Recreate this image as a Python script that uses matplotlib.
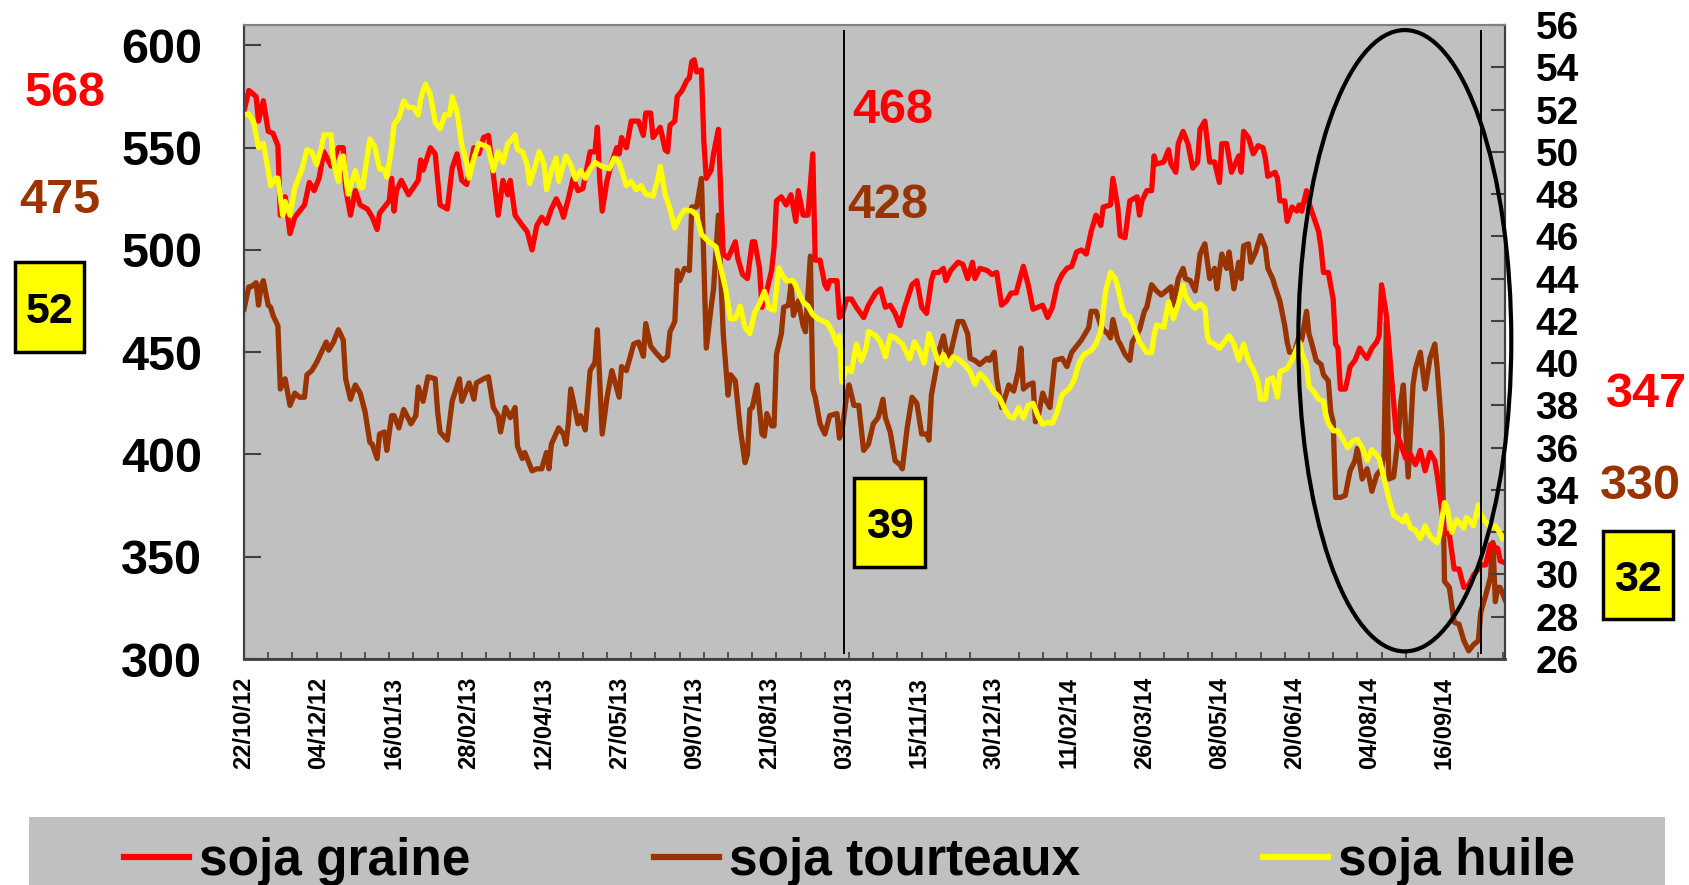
import matplotlib
matplotlib.use('Agg')
import matplotlib.pyplot as plt
from matplotlib.patches import Ellipse, Rectangle
from matplotlib.lines import Line2D

plt.rcParams['font.family'] = ['Liberation Sans', 'DejaVu Sans']
plt.rcParams['font.weight'] = 'bold'

# tick labels on the category axis (one label every 31 trading days)
date_labels = ['22/10/12', '04/12/12', '16/01/13', '28/02/13', '12/04/13', '27/05/13',
               '09/07/13', '21/08/13', '03/10/13', '15/11/13', '30/12/13', '11/02/14',
               '26/03/14', '08/05/14', '20/06/14', '04/08/14', '16/09/14']

# (day index, value)
graine = [(0, 568), (2, 578), (5, 575), (6, 563), (8, 573), (10, 558), (12, 557), (14, 551), (15, 517),
          (17, 526), (19, 508), (21, 516), (23, 519), (25, 522), (27, 533), (29, 529), (31, 535), (33, 548),
          (36, 541), (39, 550), (41, 550), (42, 530), (44, 517), (46, 529), (48, 522), (51, 520), (53, 516),
          (55, 510), (56, 518), (58, 521), (60, 524), (61, 535), (62, 519), (63, 529), (65, 534), (68, 527),
          (72, 534), (73, 544), (74, 539), (77, 550), (79, 547), (81, 522), (84, 520), (86, 540), (88, 547),
          (90, 534), (92, 532), (95, 550), (97, 547), (99, 555), (101, 556), (103, 537), (105, 517), (107, 534),
          (109, 527), (110, 534), (112, 517), (115, 512), (117, 509), (119, 500), (121, 512), (123, 516),
          (125, 513), (127, 520), (129, 525), (131, 520), (132, 516), (134, 525), (136, 535), (138, 529),
          (140, 530), (143, 548), (145, 548), (146, 560), (147, 534), (148, 519), (150, 534), (152, 543),
          (154, 550), (155, 547), (156, 555), (158, 550), (160, 563), (163, 563), (165, 556), (166, 567),
          (168, 567), (169, 555), (172, 560), (174, 549), (175, 548), (176, 561), (178, 563), (179, 575),
          (181, 578), (183, 583), (184, 584), (185, 592), (186, 593), (187, 587), (189, 588), (190, 553),
          (191, 535), (193, 539), (194, 547), (196, 559), (197, 527), (198, 498), (200, 496), (203, 504),
          (204, 496), (206, 488), (208, 486), (210, 504), (211, 504), (213, 491), (214, 472), (216, 480),
          (218, 490), (219, 501), (220, 524), (222, 526), (224, 522), (226, 527), (228, 514), (229, 529),
          (231, 517), (233, 517), (235, 547), (236, 495), (238, 495), (240, 483), (241, 481), (242, 485),
          (245, 485), (246, 467), (247, 468), (249, 476), (251, 476), (253, 472), (256, 467), (258, 473),
          (261, 479), (263, 481), (265, 472), (267, 473), (269, 469), (271, 463), (273, 472), (276, 483),
          (278, 485), (280, 472), (282, 469), (284, 485), (285, 489), (287, 489), (289, 491), (290, 485),
          (292, 490), (295, 494), (297, 493), (299, 486), (301, 494), (302, 486), (304, 491), (307, 490),
          (309, 488), (311, 489), (313, 473), (315, 475), (317, 479), (319, 479), (322, 492), (324, 483),
          (326, 471), (328, 472), (330, 473), (332, 467), (334, 472), (336, 483), (338, 488), (340, 491),
          (342, 492), (344, 499), (346, 500), (348, 498), (350, 509), (352, 517), (354, 512), (355, 521),
          (358, 522), (359, 535), (361, 521), (362, 507), (364, 506), (366, 524), (369, 526), (370, 517),
          (371, 524), (373, 529), (375, 529), (376, 546), (377, 542), (380, 543), (382, 549), (383, 542),
          (385, 538), (386, 552), (388, 558), (390, 552), (392, 540), (394, 543), (395, 559), (397, 563),
          (399, 543), (401, 543), (403, 533), (404, 552), (406, 552), (408, 538), (411, 546), (412, 538),
          (413, 558), (415, 555), (417, 547), (419, 551), (421, 550), (422, 545), (423, 536), (426, 538),
          (427, 535), (428, 524), (430, 524), (431, 514), (433, 521), (435, 519), (436, 522), (437, 519),
          (439, 529), (440, 523), (442, 516), (444, 509), (445, 501), (446, 489), (448, 489), (450, 476),
          (451, 454), (452, 452), (453, 432), (455, 432), (456, 437), (457, 443), (459, 446), (461, 452),
          (462, 450), (464, 447), (466, 452), (468, 455), (469, 458), (470, 483), (472, 468), (473, 454),
          (476, 411), (478, 405), (480, 398), (482, 400), (484, 395), (486, 402), (488, 392), (490, 401),
          (492, 397), (493, 390), (496, 362), (498, 361), (500, 344), (502, 344), (504, 335), (506, 336),
          (508, 341), (510, 344), (511, 346), (513, 346), (515, 356), (518, 354), (519, 348), (521, 347)]

tourteaux = [(0, 471), (2, 482), (3, 482), (5, 484), (6, 473), (7, 482), (8, 485), (10, 473), (11, 472),
             (12, 468), (14, 463), (15, 432), (17, 437), (19, 424), (21, 430), (23, 428), (25, 428), (26, 439),
             (28, 441), (30, 445), (32, 450), (34, 455), (35, 451), (37, 455), (39, 461), (41, 456), (42, 437),
             (44, 427), (46, 434), (48, 430), (50, 421), (52, 406), (53, 405), (55, 398), (56, 410), (58, 411),
             (59, 402), (61, 419), (62, 419), (64, 413), (66, 422), (69, 415), (71, 419), (72, 433), (74, 426),
             (76, 438), (79, 437), (80, 421), (81, 411), (84, 407), (86, 426), (89, 437), (90, 426), (93, 435),
             (95, 427), (96, 435), (99, 437), (101, 438), (103, 423), (105, 419), (106, 411), (108, 423),
             (110, 418), (112, 423), (113, 404), (115, 398), (116, 401), (119, 392), (121, 393), (123, 393),
             (125, 401), (126, 393), (127, 405), (130, 413), (132, 410), (133, 405), (134, 415), (135, 432),
             (138, 415), (139, 419), (141, 412), (143, 441), (145, 445), (146, 461), (148, 410), (150, 428),
             (152, 441), (155, 428), (156, 443), (158, 441), (161, 454), (163, 455), (165, 448), (166, 464),
             (168, 453), (170, 450), (173, 446), (175, 448), (176, 460), (178, 465), (179, 490), (180, 485),
             (182, 491), (184, 490), (185, 521), (187, 521), (189, 535), (191, 452), (193, 472), (194, 481),
             (196, 517), (198, 459), (200, 429), (201, 439), (203, 436), (205, 413), (207, 396), (208, 400),
             (209, 422), (210, 423), (212, 434), (214, 410), (215, 409), (216, 420), (218, 414), (219, 414),
             (220, 449), (222, 459), (223, 472), (225, 473), (226, 483), (227, 468), (229, 475), (231, 463),
             (232, 460), (234, 497), (235, 432), (236, 428), (238, 415), (240, 410), (242, 419), (245, 420),
             (246, 408), (247, 411), (249, 429), (250, 434), (252, 424), (254, 424), (256, 402), (258, 405),
             (260, 415), (262, 418), (264, 427), (265, 418), (267, 411), (269, 397), (271, 395), (272, 393),
             (274, 413), (276, 428), (278, 425), (280, 410), (282, 410), (283, 407), (284, 429), (286, 442),
             (287, 450), (289, 458), (291, 445), (295, 465), (297, 465), (299, 459), (300, 447), (302, 446),
             (304, 444), (307, 447), (308, 446), (310, 450), (311, 437), (313, 423), (315, 430), (316, 434),
             (318, 431), (320, 441), (321, 452), (322, 432), (324, 434), (326, 435), (327, 416), (328, 418),
             (330, 430), (331, 427), (333, 423), (335, 446), (338, 447), (340, 443), (342, 450), (344, 453),
             (346, 456), (349, 462), (350, 470), (352, 470), (354, 463), (355, 461), (357, 459), (358, 457),
             (359, 466), (361, 456), (362, 454), (364, 449), (366, 446), (367, 455), (370, 461), (372, 470),
             (373, 472), (375, 483), (377, 480), (379, 478), (381, 480), (383, 482), (384, 473), (386, 486),
             (388, 491), (389, 486), (391, 485), (393, 480), (394, 488), (395, 498), (397, 503), (399, 486),
             (401, 491), (402, 481), (404, 498), (406, 491), (407, 499), (409, 481), (411, 494), (412, 486),
             (413, 502), (415, 503), (416, 494), (418, 499), (420, 507), (422, 501), (423, 491), (425, 486),
             (426, 482), (428, 475), (430, 463), (431, 455), (432, 450), (434, 450), (436, 458), (437, 456),
             (439, 470), (440, 459), (441, 455), (443, 446), (445, 444), (446, 439), (448, 436), (449, 421),
             (450, 416), (451, 379), (453, 379), (455, 380), (457, 392), (459, 397), (460, 403), (462, 388),
             (464, 393), (465, 388), (466, 382), (468, 390), (470, 393), (471, 400), (472, 465), (473, 388),
             (475, 389), (477, 410), (478, 426), (479, 434), (481, 389), (483, 434), (484, 442), (486, 450),
             (488, 432), (490, 447), (492, 454), (493, 442), (495, 410), (496, 338), (498, 335), (500, 318),
             (502, 317), (504, 309), (506, 304), (508, 307), (510, 309), (511, 323), (513, 331), (515, 340),
             (516, 357), (517, 328), (518, 335), (519, 335), (521, 329)]

huile = [(0, 51.75), (2, 51.8), (4, 51.4), (6, 50.2), (8, 50.4), (10, 49.1), (11, 48.4), (13, 48.75),
         (14, 48.75), (16, 47.0), (17, 47.65), (19, 47.0), (21, 48.3), (24, 49.2), (26, 50.1), (28, 50.0),
         (30, 49.4), (32, 50.2), (33, 50.8), (36, 50.8), (37, 49.5), (39, 48.6), (40, 49.7), (41, 49.8),
         (43, 48.0), (46, 49.1), (48, 48.3), (49, 48.3), (50, 49.1), (52, 50.6), (54, 50.25), (56, 49.2),
         (58, 49.15), (59, 48.8), (61, 50.2), (62, 51.3), (64, 51.6), (66, 52.4), (68, 52.1), (70, 52.1),
         (72, 51.75), (73, 52.5), (74, 52.9), (75, 53.2), (77, 52.7), (79, 51.4), (81, 51.1), (83, 51.75),
         (85, 51.75), (86, 52.6), (88, 51.9), (90, 50.3), (92, 49.5), (93, 48.75), (95, 49.7), (97, 50.4),
         (99, 50.3), (101, 50.2), (103, 49.1), (105, 50.0), (107, 49.5), (109, 50.4), (110, 50.5), (112, 50.8),
         (113, 50.1), (115, 50.0), (117, 49.4), (118, 48.5), (120, 49.2), (122, 50.0), (124, 49.4), (125, 48.2),
         (127, 49.1), (129, 49.7), (130, 48.6), (133, 49.8), (135, 49.4), (137, 48.7), (139, 49.1), (141, 48.75),
         (143, 49.2), (145, 49.5), (148, 49.3), (151, 49.2), (153, 49.7), (155, 49.5), (158, 48.4), (160, 48.6),
         (162, 48.2), (164, 48.4), (166, 48.0), (169, 47.9), (171, 48.75), (172, 49.3), (174, 48.0), (176, 47.3),
         (178, 46.4), (180, 46.9), (182, 47.25), (185, 47.2), (187, 47.0), (189, 46.1), (192, 45.75), (195, 45.5),
         (197, 44.5), (199, 43.5), (201, 42.1), (203, 42.1), (205, 42.7), (207, 41.7), (209, 41.4), (211, 42.4),
         (213, 42.8), (215, 43.4), (217, 42.6), (219, 42.5), (221, 44.5), (222, 44.25), (224, 43.9), (227, 43.9),
         (229, 43.4), (231, 42.9), (233, 42.7), (235, 42.3), (237, 42.1), (239, 42.0), (241, 41.9), (243, 41.5),
         (245, 40.9), (246, 41.3), (247, 39.1), (249, 39.75), (251, 39.6), (253, 40.9), (255, 40.1), (257, 40.7),
         (258, 41.5), (261, 41.3), (263, 41.0), (265, 40.3), (267, 41.3), (269, 41.2), (272, 40.9), (275, 40.2),
         (277, 41.0), (279, 40.6), (281, 40.0), (283, 41.4), (285, 40.7), (287, 40.0), (289, 40.4), (291, 39.9),
         (293, 40.3), (295, 40.2), (298, 39.9), (300, 39.6), (302, 39.0), (304, 39.5), (306, 39.3), (308, 38.96),
         (310, 38.6), (312, 38.4), (314, 37.9), (316, 37.5), (318, 37.4), (320, 37.9), (322, 37.4), (324, 38.0),
         (326, 38.1), (328, 37.5), (330, 37.1), (332, 37.2), (334, 37.15), (336, 37.7), (338, 38.5), (341, 38.8),
         (343, 39.2), (345, 40.0), (347, 40.4), (350, 40.6), (352, 40.9), (354, 41.5), (356, 43.4), (358, 44.3),
         (360, 44.0), (361, 43.6), (363, 42.6), (364, 42.3), (366, 42.2), (368, 41.6), (370, 41.0), (373, 40.5),
         (375, 40.5), (376, 41.3), (377, 41.8), (380, 41.7), (381, 42.3), (382, 42.9), (384, 42.1), (386, 42.8),
         (388, 43.7), (389, 43.2), (391, 42.8), (393, 42.6), (395, 42.8), (397, 42.6), (398, 41.3), (399, 41.0),
         (401, 40.9), (403, 40.7), (405, 41.0), (407, 41.3), (409, 40.9), (411, 40.15), (413, 40.9), (415, 40.1),
         (417, 39.7), (419, 39.1), (420, 38.3), (422, 38.3), (423, 39.2), (425, 39.3), (427, 38.4), (428, 39.6),
         (431, 39.75), (433, 40.15), (435, 40.7), (436, 41.0), (437, 40.5), (439, 39.9), (440, 38.9), (442, 38.65),
         (444, 38.3), (446, 38.2), (447, 37.5), (448, 37.15), (450, 36.8), (452, 36.8), (454, 36.4), (456, 36.0),
         (458, 36.3), (460, 36.4), (462, 36.0), (464, 35.4), (466, 35.9), (468, 35.65), (469, 35.5), (471, 34.55),
         (473, 33.6), (475, 32.8), (477, 32.65), (479, 32.5), (480, 32.8), (482, 32.2), (484, 32.1), (486, 31.7),
         (488, 32.3), (490, 31.8), (493, 31.5), (494, 31.9), (496, 33.4), (497, 33.2), (499, 32.0), (501, 32.6),
         (504, 32.2), (505, 32.7), (506, 32.6), (508, 32.3), (510, 33.3), (511, 32.8), (513, 32.5), (515, 32.2),
         (517, 32.3), (519, 31.95), (520, 31.7)]

marker_days = [248, 511]   # 03/10/13 and about 08/10/14

RED = '#FF0000'
BROWN = '#993300'
YELLOW = '#FFFF00'
GREY = '#C0C0C0'
SPINE = '#404040'

W, H = 1690.0, 885.0
def fx(px):
    return px / W
def fy(py):
    return 1 - py / H

fig = plt.figure(figsize=(16.9, 8.85), dpi=100)
ax = fig.add_axes([fx(244), fy(659), (1505 - 244) / W, (659 - 25) / H])
ax.set_facecolor(GREY)
ax2 = ax.twinx()

gx, gy = zip(*graine)
tx, ty = zip(*tourteaux)
hx, hy = zip(*huile)
ax.plot(tx, ty, color=BROWN, lw=3.8, solid_joinstyle='round')
ax.plot(gx, gy, color=RED, lw=3.8, solid_joinstyle='round')
ax2.plot(hx, hy, color=YELLOW, lw=3.8, solid_joinstyle='round')

ax.set_xlim(0, 521)
ax.set_ylim(300, 610)
ax2.set_ylim(26, 56)

ax.set_xticks(range(0, 31 * len(date_labels), 31))
ax.set_xticklabels(date_labels, rotation=90, fontsize=17, fontweight='bold')
ax.set_xticks(range(0, 522, 10), minor=True)
ax.tick_params(axis='x', which='major', length=0, pad=13)
ax.tick_params(axis='x', which='minor', direction='in', length=5, width=1.2, color=SPINE)
ax.set_yticks(range(300, 601, 50))
ax.tick_params(axis='y', direction='in', length=12, width=1.5, color=SPINE, labelsize=35, pad=30)
ax2.set_yticks(range(26, 57, 2))
ax2.tick_params(axis='y', direction='in', length=10, width=1.5, color=SPINE, labelsize=28, pad=22)

for a in (ax, ax2):
    for side in ('left', 'right', 'bottom'):
        a.spines[side].set_color(SPINE)
        a.spines[side].set_linewidth(1.5)
    a.spines['top'].set_color('#808080')
    a.spines['top'].set_linewidth(1.5)
ax.spines['bottom'].set_linewidth(2)

for d in marker_days:
    ax2.axvline(d, ymin=0.01, ymax=0.99, color='black', lw=1.4, zorder=5)

ax2.add_patch(Ellipse((479.6, 41.06), 88, 29.4, fill=False, ec='black', lw=3, clip_on=False, zorder=6))

# value annotations
fig.text(fx(65), fy(106), '568', color=RED, fontsize=35, ha='center', va='baseline')
fig.text(fx(60), fy(213), '475', color=BROWN, fontsize=35, ha='center', va='baseline')
fig.text(fx(893), fy(123), '468', color=RED, fontsize=35, ha='center', va='baseline')
fig.text(fx(888), fy(218), '428', color=BROWN, fontsize=35, ha='center', va='baseline')
fig.text(fx(1646), fy(407), '347', color=RED, fontsize=35, ha='center', va='baseline')
fig.text(fx(1640), fy(499), '330', color=BROWN, fontsize=35, ha='center', va='baseline')

for x0, x1, y0, y1, txt in [(15, 84, 262, 352, '52'), (854, 925, 478, 567, '39'), (1603, 1673, 531, 619, '32')]:
    fig.add_artist(Rectangle((fx(x0), fy(y1)), (x1 - x0) / W, (y1 - y0) / H, transform=fig.transFigure,
                             fc=YELLOW, ec='black', lw=2.5))
    fig.text(fx((x0 + x1) / 2), fy((y0 + y1) / 2 + 16), txt, color='black', fontsize=31,
             ha='center', va='baseline')

# legend band at the bottom
fig.add_artist(Rectangle((fx(29), 0), (1665 - 29) / W, 1 - 817 / H, transform=fig.transFigure,
                         fc=GREY, ec='none'))
for x0, txt, col in [(124, 'soja graine', RED), (654, 'soja tourteaux', BROWN), (1263, 'soja huile', YELLOW)]:
    fig.add_artist(Line2D([fx(x0), fx(x0 + 65)], [fy(857), fy(857)], transform=fig.transFigure,
                          color=col, lw=4.5))
    fig.text(fx(x0 + 75), fy(875), txt, color='black', fontsize=37, ha='left', va='baseline')

fig.savefig('out.png', dpi=100)
